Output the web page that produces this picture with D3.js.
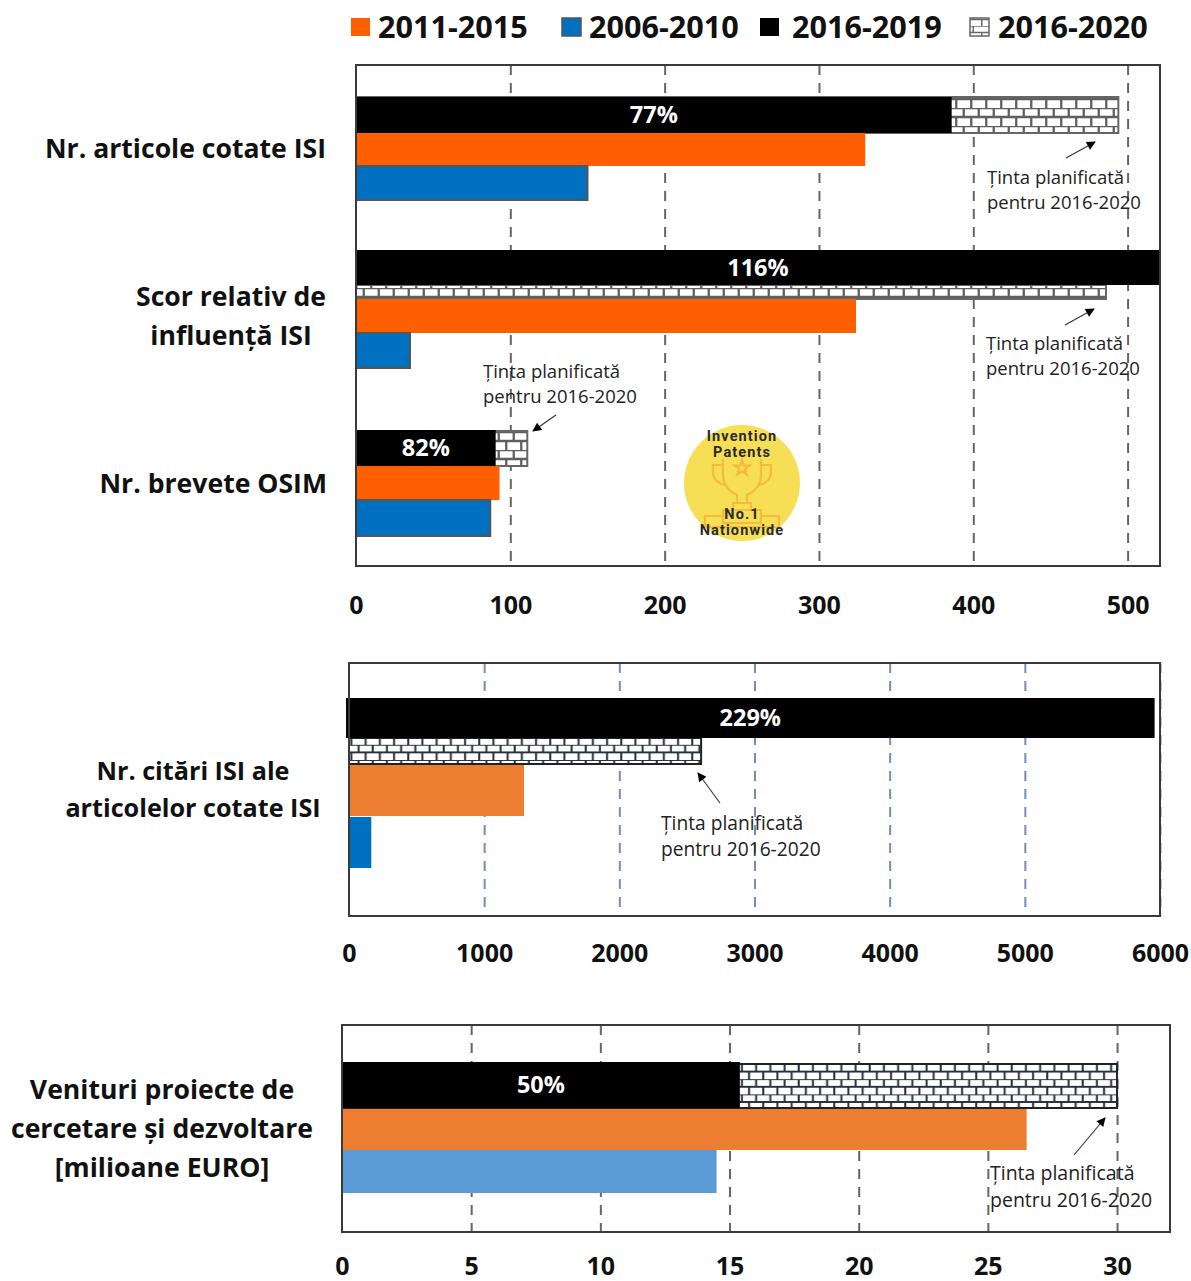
<!DOCTYPE html>
<html><head><meta charset="utf-8">
<script src="https://cdn.jsdelivr.net/npm/d3@7"></script>
<style>html,body{margin:0;padding:0;background:#fff}svg{display:block}text{font-family:"Open Sans",sans-serif}</style>
</head><body><div id="c"></div>
<script>
const legendLabels = ["2011-2015","2006-2010","2016-2019","2016-2020"];
const annotationLines = ["Ținta planificată","pentru 2016-2020"];
const logoTop = ["Invention","Patents"];
const logoBottom = ["No.1","Nationwide"];

const ticksA = [0,100,200,300,400,500];
const ticksB = [0,1000,2000,3000,4000,5000,6000];
const ticksC = [0,5,10,15,20,25,30];

const catsA = [["Nr. articole cotate ISI"],["Scor relativ de","influență ISI"],["Nr. brevete OSIM"]];
const catsB = [["Nr. citări ISI ale","articolelor cotate ISI"]];
const catsC = [["Venituri proiecte de","cercetare și dezvoltare","[milioane EURO]"]];

const actualA = [386,521,90.5];   // 2016-2019 (second bar runs off the axis)
const targetA = [494,486,111];    // 2016-2020
const s2011A  = [330,324,93];
const s2006A  = [150,35,87];
const pctA    = ["77%","116%","82%"];

const actualB = [5960]; const targetB = [2605]; const s2011B = [1295]; const s2006B = [165]; const pctB = ["229%"];
const actualC = [15.4]; const targetC = [30]; const s2011C = [26.5]; const s2006C = [14.5]; const pctC = ["50%"];

const svg = d3.select("#c").append("svg").attr("width",1191).attr("height",1281);
const defs = svg.append("defs");

function brick(id,w,h,col,sw){
  const p = defs.append("pattern").attr("id",id).attr("patternUnits","userSpaceOnUse").attr("width",w).attr("height",h*2);
  p.append("rect").attr("width",w).attr("height",h*2).attr("fill","#fff");
  p.append("path").attr("fill","none").attr("stroke",col).attr("stroke-width",sw)
   .attr("d",`M0 0H${w}M0 ${h}H${w}M${w/4} 0V${h}M${w*3/4} ${h}V${h*2}`);
}
brick("brickA",15,9,"#5f5f5f",2.3);
brick("brickB",14.2,7.6,"#26303c",2);
brick("brickL",17,6.5,"#6a6a6a",1.5);

const mk = defs.append("marker").attr("id","arr").attr("viewBox","0 0 10 10").attr("refX",9).attr("refY",5)
  .attr("markerWidth",11).attr("markerHeight",9).attr("markerUnits","userSpaceOnUse").attr("orient","auto");
mk.append("path").attr("d","M0 0L10 5L0 10Z").attr("fill","#000");

// Legend
const legendX = [351,562,760,970], legendTextX = [378,589,792,998];
const legendFill = ["#FF5F00","#0070C0","#000","url(#brickL)"];
legendLabels.forEach((t,i)=>{
  svg.append("rect").attr("x",legendX[i]).attr("y",18).attr("width",19).attr("height",18)
    .attr("fill",legendFill[i]).attr("stroke",i==3?"#666":(i==1?"#555":"none")).attr("stroke-width",i==0?0:1.5);
  svg.append("text").attr("x",legendTextX[i]).attr("y",37.5).attr("font-size",30.6).attr("font-weight",700).attr("fill","#111").text(t);
});

function panel(o){
  const x = d3.scaleLinear().domain(o.domain).range([o.x0,o.x1]);
  const g = svg.append("g");
  const grid = d3.axisBottom(x).tickValues(o.ticks).tickSize(o.y1-o.y0).tickFormat("");
  const gg = g.append("g").attr("transform",`translate(0,${o.y0})`).call(grid);
  gg.select(".domain").remove();
  gg.selectAll("line").attr("stroke",o.gridCol).attr("stroke-width",2).attr("stroke-dasharray","10,8")
    .filter(d=>d===0).remove();
  const axis = d3.axisBottom(x).tickValues(o.ticks).tickSize(0).tickPadding(0).tickFormat(d3.format("d"));
  const ga = g.append("g").attr("transform",`translate(0,${o.tickY})`).call(axis);
  ga.select(".domain").remove();
  ga.selectAll("text").attr("font-size",25).attr("font-weight",700).attr("fill","#111")
    .attr("font-family",'"Open Sans",sans-serif').attr("dy","0.35em").attr("y",0);
  o.groups.forEach((r,i)=>{
    const bar=(x0,v,row,fill,st,sw)=>g.append("rect").attr("x",x(x0)).attr("y",row[0]).attr("width",x(v)-x(x0))
      .attr("height",row[1]-row[0]).attr("fill",fill).attr("stroke",st||"none").attr("stroke-width",sw||0);
    bar(0,o.target[i],r.target,o.brick,o.brickStroke,2);
    bar(0,o.s2011[i],r.orange,o.orange);
    bar(0,o.s2006[i],r.blue,o.blue,o.blueStroke,2);
    bar(o.actualStart||0,o.actual[i],r.black,"#000");
    g.append("text").attr("x",(x(o.actualStart||0)+x(o.actual[i]))/2).attr("y",(r.black[0]+r.black[1])/2)
      .attr("dy","0.36em").attr("text-anchor","middle").attr("font-size",23.5).attr("font-weight",700).attr("fill","#fff").text(o.pct[i]);
  });
  g.append("rect").attr("x",o.x0).attr("y",o.y0).attr("width",o.x1-o.x0).attr("height",o.y1-o.y0)
    .attr("fill","none").attr("stroke","#3a3a3a").attr("stroke-width",2);
  o.labels.forEach(l=>{
    l.lines.forEach((t,k)=>{
      svg.append("text").attr("x",l.x).attr("y",l.y+k*l.dy).attr("dy","0.36em").attr("text-anchor",l.anchor)
        .attr("font-size",o.catSize).attr("font-weight",700).attr("fill","#111").text(t);
    });
  });
  o.notes.forEach(n=>{
    annotationLines.forEach((t,k)=>{
      svg.append("text").attr("x",n.tx).attr("y",n.ty+k*n.dy).attr("dy","0.36em")
        .attr("font-size",o.noteSize).attr("fill","#222").text(t);
    });
    svg.append("line").attr("x1",n.a[0]).attr("y1",n.a[1]).attr("x2",n.a[2]).attr("y2",n.a[3])
      .attr("stroke","#333").attr("stroke-width",1.1).attr("marker-end","url(#arr)");
  });
}

panel({domain:[0,521],x0:356,x1:1160,y0:65,y1:566,ticks:ticksA,tickY:605,gridCol:"#666",catSize:26.6,noteSize:18.5,
  actual:actualA,target:targetA,s2011:s2011A,s2006:s2006A,pct:pctA,orange:"#FF5F00",blue:"#0070C0",blueStroke:"#555",
  brick:"url(#brickA)",brickStroke:"#666",
  groups:[
    {black:[97,133],target:[97,133],orange:[133,166],blue:[166,200]},
    {black:[250,285],target:[285,299],orange:[299,333],blue:[333,368]},
    {black:[430,466],target:[431,466],orange:[466,500],blue:[500,536]}],
  labels:[{lines:catsA[0],x:326,y:148,dy:0,anchor:"end"},{lines:catsA[1],x:231,y:296,dy:39,anchor:"middle"},{lines:catsA[2],x:327,y:483,dy:0,anchor:"end"}],
  notes:[{tx:987,ty:177,dy:25,a:[1066,158,1095,142]},{tx:986,ty:343,dy:25,a:[1065,325,1094,309]},{tx:483,ty:371,dy:25,a:[556,415,533,431]}]
});
panel({domain:[0,6000],x0:349,x1:1160,y0:663,y1:916,ticks:ticksB,tickY:953,gridCol:"#6F8FB8",catSize:25.2,noteSize:19.2,
  actual:actualB,actualStart:-22,target:targetB,s2011:s2011B,s2006:s2006B,pct:pctB,orange:"#ED7D31",blue:"#0070C0",
  brick:"url(#brickB)",brickStroke:"#222",
  groups:[{black:[698,738],target:[738,764],orange:[765,816],blue:[817,868]}],
  labels:[{lines:catsB[0],x:193,y:771,dy:37,anchor:"middle"}],
  notes:[{tx:661,ty:823,dy:26,a:[720,803,698,773]}]
});
panel({domain:[0,32.05],x0:342,x1:1170,y0:1025,y1:1232,ticks:ticksC,tickY:1266,gridCol:"#666",catSize:26.6,noteSize:19.5,
  actual:actualC,target:targetC,s2011:s2011C,s2006:s2006C,pct:pctC,orange:"#ED7D31",blue:"#5B9BD5",
  brick:"url(#brickB)",brickStroke:"#222",
  groups:[{black:[1062,1108],target:[1064,1108],orange:[1109,1150],blue:[1150,1193]}],
  labels:[{lines:catsC[0],x:162,y:1089,dy:39,anchor:"middle"}],
  notes:[{tx:990,ty:1173,dy:27,a:[1074,1155,1105,1118]}]
});

// Logo
const lg = svg.append("g").attr("transform","translate(742,483)");
lg.append("circle").attr("r",58).attr("fill","#F7DF55");
const tr = lg.append("g").attr("fill","none").attr("stroke","#F2BC3C").attr("stroke-width",2.2);
tr.append("path").attr("d","M-19 -24V-8C-19 4 -10 10 -5 12V20H5V12C10 10 19 4 19 -8V-24");
tr.append("path").attr("d","M-19 -18H-29V-11C-29 -4 -24 1 -16 2M19 -18H29V-11C29 -4 24 1 16 2");
tr.append("path").attr("d","M-9 20H9V27H-9ZM-19 27H19V40H-19ZM-19 33H-37V44H37V33H19");
tr.append("path").attr("d",d3.symbol().type(d3.symbolStar).size(70)()).attr("transform","translate(0,-15)");
const lt=(arr,y)=>arr.forEach((t,i)=>lg.append("text").attr("y",y+i*16).attr("text-anchor","middle")
   .attr("font-size",14.5).attr("font-weight",700).attr("letter-spacing",1.1).attr("fill","#2a2a2a")
   .style("font-family","Roboto,sans-serif").text(t));
lt(logoTop,-42); lt(logoBottom,36);
</script></body></html>
